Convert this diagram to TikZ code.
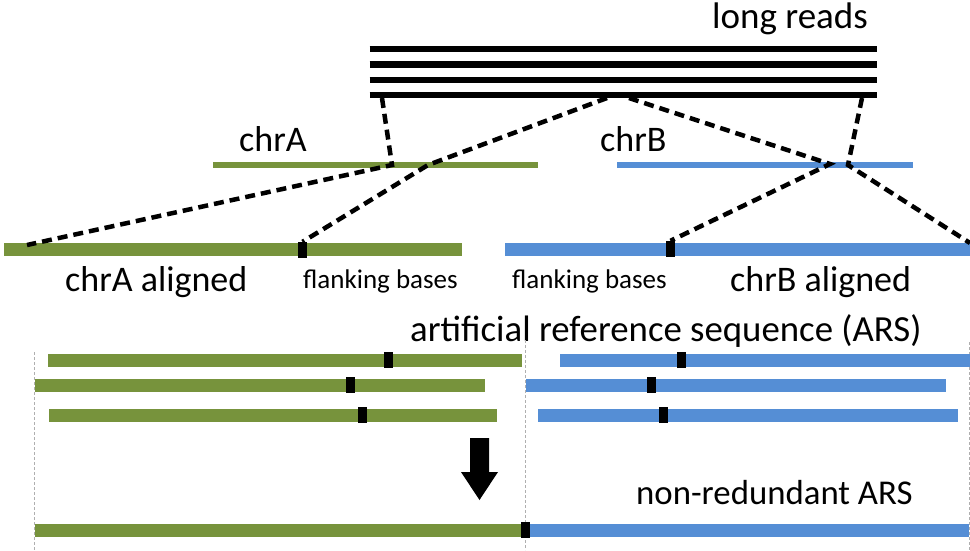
\documentclass[tikz,border=0pt]{standalone}
\usepackage{fontspec}
\setmainfont{Carlito}
\definecolor{grn}{RGB}{119,147,60}
\definecolor{blu}{RGB}{85,142,213}
\definecolor{guidegray}{RGB}{175,175,175}
\begin{document}
\begin{tikzpicture}[x=1pt,y=-1pt,
  readline/.style={line width=6.5pt,black},
  chrtop/.style={line width=5.5pt},
  seg/.style={line width=13pt},
  conn/.style={line width=4.5pt,black,dash pattern=on 10pt off 6pt},
  guide/.style={line width=1pt,guidegray,dash pattern=on 3pt off 2pt},
  marker/.style={fill=black,minimum width=9pt,minimum height=16pt,inner sep=0pt,draw=none},
  big/.style={font=\fontsize{36}{40}\selectfont,inner sep=0pt,anchor=base west},
  small/.style={font=\fontsize{27}{30}\selectfont,inner sep=0pt,anchor=base west}]
\useasboundingbox (0,0) rectangle (970,550);

% long reads
\foreach \yy in {49,64.5,80,95}{
  \draw[readline] (369.5,\yy) -- (877,\yy);
}
\node[big,font=\fontsize{37}{40}\selectfont] (lr) at (712,28) {long reads};

% chromosomes
\draw[chrtop,grn] (213,165) -- (538,165);
\draw[chrtop,blu] (617,165) -- (913,165);
\node[big] (chrA) at (239,151) {chrA};
\node[big] (chrB) at (600,151) {chrB};

% aligned
\draw[seg,grn] (4,249.5) -- (462,249.5);
\draw[seg,blu] (505,249.5) -- (970,249.5);
\node[marker] (mA) at (302.5,250) {};
\node[marker] (mB) at (670.5,249) {};
\node[big] (alA) at (65,291) {chrA aligned};
\node[big] (alB) at (730,291) {chrB aligned};
\node[small] (fbA) at (303,288) {flanking bases};
\node[small] (fbB) at (512,288) {flanking bases};

% connector coordinates
\coordinate (t1) at (382,98);
\coordinate (t2) at (607,98);
\coordinate (t3) at (629,98);
\coordinate (t4) at (862,98);
\coordinate (a1) at (392,165);
\coordinate (a2) at (428,165);
\coordinate (b1) at (830,164);
\coordinate (b2) at (848,165);
\coordinate (ea) at (27,245);
\coordinate (eb) at (970,243);

\draw[conn] (t1) -- (a1) -- (ea);
\draw[conn] (t2) -- (a2) -- (mA.north);
\draw[conn] (t3) -- (b1) -- (mB.north);
\draw[conn] (t4) -- (b2) -- (eb);

% ARS
\node[big,font=\fontsize{36.8}{40}\selectfont] (ars) at (410,341) {artificial reference sequence (ARS)};
\draw[guide] (34,352) -- (34,550);
\draw[guide] (525,340) -- (525,550);
\draw[guide] (969,342) -- (969,550);

\draw[seg,grn] (48,360) -- (522,360);
\draw[seg,grn] (35,385) -- (485,385);
\draw[seg,grn] (49,415) -- (497,415);
\draw[seg,blu] (560,360) -- (970,360);
\draw[seg,blu] (526,385) -- (946,385);
\draw[seg,blu] (538,415) -- (958,415);
\node[marker] (m1) at (388.5,360) {};
\node[marker] (m2) at (350,385) {};
\node[marker] (m3) at (362,415) {};
\node[marker] (m4) at (681,360) {};
\node[marker] (m5) at (651,385) {};
\node[marker] (m6) at (663,415) {};

% arrow
\fill[black] (470,438) -- (489,438) -- (489,472) -- (498,472) -- (479.5,500)
  -- (461,472) -- (470,472) -- cycle;

% non-redundant
\node[big,font=\fontsize{34.8}{40}\selectfont] (nr) at (636,504) {non-redundant ARS};
\draw[seg,grn] (35,530) -- (522,530);
\draw[seg,blu] (527,530) -- (969,530);
\node[marker] (m7) at (525,530) {};
\end{tikzpicture}
\end{document}
